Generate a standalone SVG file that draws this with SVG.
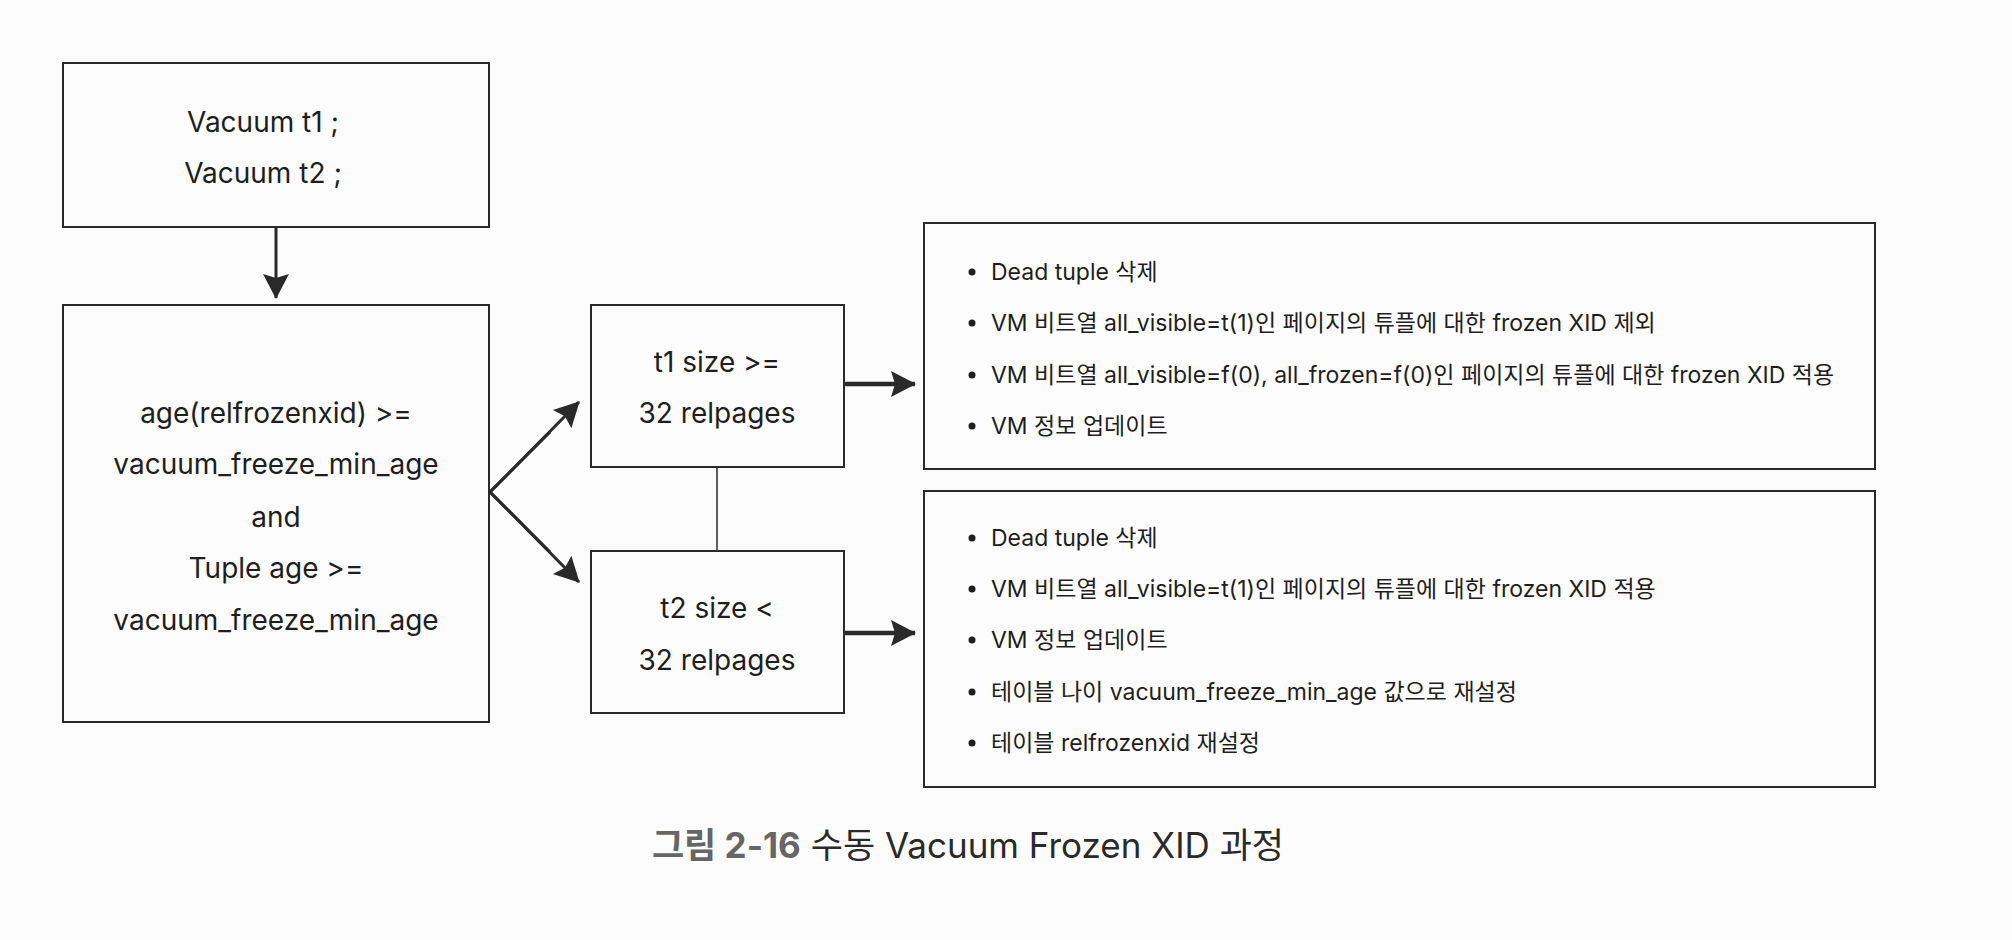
<svg xmlns="http://www.w3.org/2000/svg" width="2012" height="940" viewBox="0 0 2012 940">
<defs>
<marker id="ah" markerUnits="userSpaceOnUse" markerWidth="26" markerHeight="28" refX="24" refY="14" orient="auto">
<path d="M0,1 L25,14 L0,27 L4,14 z" fill="#2a2a2a"/>
</marker>
</defs>
<style>
.box{fill:none;stroke:#2a2a2a;stroke-width:2}
.t{font-family:Inter,"Noto Sans","Noto Sans CJK KR",sans-serif;font-size:28px;fill:#1e1e1e;text-anchor:middle;dominant-baseline:central}
.b{font-family:Inter,"Noto Sans CJK KR",sans-serif;font-size:23px;fill:#1e1e1e;dominant-baseline:central}
.dot{fill:#1e1e1e}
.conn{stroke:#2a2a2a;fill:none}
.cap{font-family:Inter,"Noto Sans CJK KR",sans-serif;font-size:35px;text-anchor:middle;dominant-baseline:central}
</style>
<rect width="2012" height="940" fill="#fcfcfc"/>
<g id="connectors">
<line class="conn" x1="276" y1="227" x2="276" y2="298" stroke-width="3" marker-end="url(#ah)"/>
<polyline class="conn" points="550,432 490,492 550,552" stroke-width="3" stroke-linejoin="miter"/>
<line class="conn" x1="490" y1="492" x2="579" y2="402" stroke-width="3" marker-end="url(#ah)"/>
<line class="conn" x1="490" y1="492" x2="579" y2="582" stroke-width="3" marker-end="url(#ah)"/>
<line class="conn" x1="717" y1="467" x2="717" y2="551" stroke-width="1.5"/>
<line class="conn" x1="844" y1="384" x2="915" y2="384" stroke-width="4.5" marker-end="url(#ah)"/>
<line class="conn" x1="844" y1="633" x2="915" y2="633" stroke-width="4.5" marker-end="url(#ah)"/>
</g>
<g id="vacuum">
<rect class="box" x="63" y="63" width="426" height="164"/>
<text class="t" x="263" y="122">Vacuum t1 ;</text>
<text class="t" x="263" y="173">Vacuum t2 ;</text>
</g>
<g id="condition">
<rect class="box" x="63" y="305" width="426" height="417"/>
<text class="t" x="276" y="413">age(relfrozenxid) &gt;=</text>
<text class="t" x="276" y="464">vacuum_freeze_min_age</text>
<text class="t" x="276" y="517">and</text>
<text class="t" x="276" y="568">Tuple age &gt;=</text>
<text class="t" x="276" y="620">vacuum_freeze_min_age</text>
</g>
<g id="t1">
<rect class="box" x="591" y="305" width="253" height="162"/>
<text class="t" x="717" y="362">t1 size &gt;=</text>
<text class="t" x="717" y="413">32 relpages</text>
</g>
<g id="t2">
<rect class="box" x="591" y="551" width="253" height="162"/>
<text class="t" x="717" y="608">t2 size &lt;</text>
<text class="t" x="717" y="660">32 relpages</text>
</g>
<g id="result1">
<rect class="box" x="924" y="223" width="951" height="246"/>
<circle class="dot" cx="972" cy="272" r="3.5"/>
<text class="b" x="991" y="272">Dead tuple 삭제</text>
<circle class="dot" cx="972" cy="323" r="3.5"/>
<text class="b" x="991" y="323">VM 비트열 all_visible=t(1)인 페이지의 튜플에 대한 frozen XID 제외</text>
<circle class="dot" cx="972" cy="375" r="3.5"/>
<text class="b" x="991" y="375">VM 비트열 all_visible=f(0), all_frozen=f(0)인 페이지의 튜플에 대한 frozen XID 적용</text>
<circle class="dot" cx="972" cy="426" r="3.5"/>
<text class="b" x="991" y="426">VM 정보 업데이트</text>
</g>
<g id="result2">
<rect class="box" x="924" y="491" width="951" height="296"/>
<circle class="dot" cx="972" cy="538" r="3.5"/>
<text class="b" x="991" y="538">Dead tuple 삭제</text>
<circle class="dot" cx="972" cy="589" r="3.5"/>
<text class="b" x="991" y="589">VM 비트열 all_visible=t(1)인 페이지의 튜플에 대한 frozen XID 적용</text>
<circle class="dot" cx="972" cy="640" r="3.5"/>
<text class="b" x="991" y="640">VM 정보 업데이트</text>
<circle class="dot" cx="972" cy="692" r="3.5"/>
<text class="b" x="991" y="692">테이블 나이 vacuum_freeze_min_age 값으로 재설정</text>
<circle class="dot" cx="972" cy="743" r="3.5"/>
<text class="b" x="991" y="743">테이블 relfrozenxid 재설정</text>
</g>
<g id="caption">
<text class="cap" x="968" y="845"><tspan font-weight="bold" fill="#666">그림 2-16</tspan><tspan fill="#2a2a2a"> 수동 Vacuum Frozen XID 과정</tspan></text>
</g>
</svg>
